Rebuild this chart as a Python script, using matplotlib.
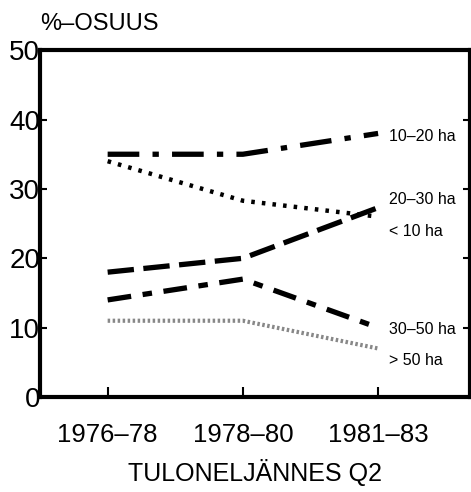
import matplotlib.pyplot as plt

plt.rcParams['font.family'] = ['Liberation Sans', 'DejaVu Sans']

periods = ['1976–78', '1978–80', '1981–83']
size_10_20 = [35, 35, 38]
size_lt10 = [34, 28.3, 26]
size_20_30 = [18, 20, 27.3]
size_30_50 = [14, 17, 10]
size_gt50 = [11, 11, 7]

labels = ['10–20 ha', '20–30 ha', '< 10 ha', '30–50 ha', '> 50 ha']
label_y = [37.5, 28.5, 23.8, 9.8, 5.2]

fig = plt.figure(figsize=(4.71, 4.92), dpi=100)
ax = fig.add_axes([0.085, 0.193, 0.913, 0.705])

x = range(len(periods))
ax.plot(x, size_10_20, color='black', lw=3.8, dashes=(6, 2.5, 1.2, 2.5))
ax.plot(x, size_lt10, color='black', lw=3.2, linestyle=(0, (0.8, 1.6)))
ax.plot(x, size_20_30, color='black', lw=3.8, dashes=(5, 1.8))
ax.plot(x, size_30_50, color='black', lw=3.8, dashes=(4.5, 2.2, 1.8, 2.2))
ax.plot(x, size_gt50, color='#888888', lw=3, linestyle=(0, (0.6, 0.6)))

for txt, yy in zip(labels, label_y):
    ax.text(2.08, yy, txt, fontsize=11.5, va='center', ha='left')

ax.set_xlim(-0.5, 2.68)
ax.set_ylim(0, 50)
ax.set_xticks(list(x))
ax.set_xticklabels(periods, fontsize=18.5)
ax.set_yticks([0, 10, 20, 30, 40, 50])
ax.tick_params(axis='y', direction='in', length=5, width=1.5, pad=0, labelsize=20,
               right=True)
ax.tick_params(axis='x', direction='in', length=7, width=1.5, pad=19)
for s in ax.spines.values():
    s.set_linewidth(3)

fig.text(0.085, 0.952, '%–OSUUS', fontsize=17, ha='left', va='center')
ax.set_xlabel('TULONELJÄNNES Q2', fontsize=18, labelpad=8)

fig.savefig('out.png', dpi=100)
